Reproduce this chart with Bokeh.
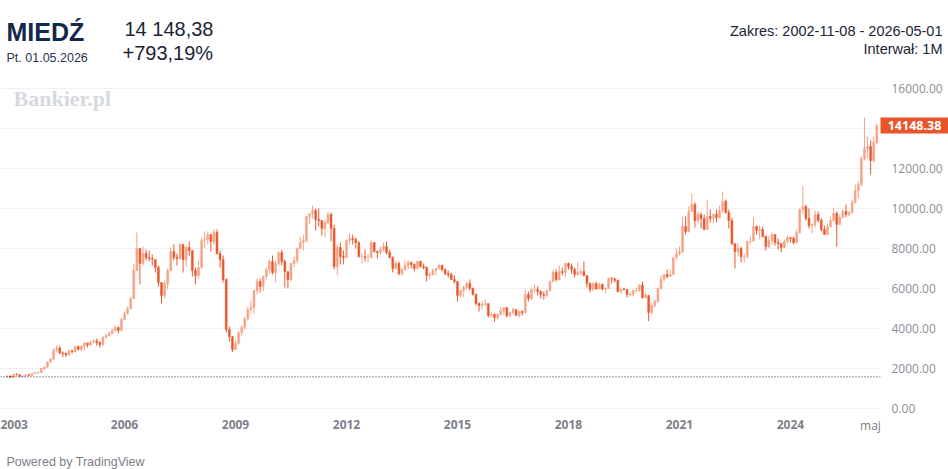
from bokeh.plotting import figure
from bokeh.models import Range1d, FixedTicker, NumeralTickFormatter, Span, ColumnDataSource
from bokeh.core.properties import value
from bokeh.embed import file_html
from bokeh.resources import INLINE

# ---------------- data (LME copper, USD/t, monthly candles 2002-11 .. 2026-05) -------------
first_open = 1584.02
close = [
    1620, 1560,  # 2002 Nov-Dec
    1700, 1690, 1610, 1620, 1675, 1660, 1745, 1790, 1800, 2000, 2060, 2320,  # 2003
    2460, 2930, 3020, 2780, 2750, 2680, 2880, 2840, 3100, 2960, 3130, 3280,  # 2004
    3180, 3330, 3380, 3300, 3200, 3550, 3650, 3750, 3900, 4050, 3900, 4450,  # 2005
    4750, 5000, 5500, 6900, 8000, 7250, 7750, 7550, 7500, 7450, 7050, 6300,  # 2006
    5650, 6250, 6900, 7850, 7550, 7500, 8200, 7450, 8050, 7900, 6900, 6650,  # 2007
    7050, 8400, 8450, 8700, 8350, 8800, 7750, 7450, 6450, 3950, 3600, 2950,  # 2008
    3250, 3800, 4050, 4480, 4950, 5050, 5900, 6350, 6100, 6600, 6950, 7350,  # 2009
    6800, 7250, 7800, 7350, 6850, 6450, 7250, 7400, 8000, 8300, 8400, 9600,  # 2010
    9750, 9900, 9450, 9400, 9000, 9300, 9700, 9000, 7100, 8050, 7600, 7550,  # 2011
    8400, 8500, 8450, 8300, 7600, 7600, 7550, 7550, 8300, 7850, 7800, 7950,  # 2012
    8100, 7800, 7550, 7000, 7250, 6750, 6950, 7150, 7300, 7200, 7000, 7350,  # 2013
    7100, 7050, 6650, 6700, 6900, 7000, 7150, 6950, 6750, 6700, 6450, 6350,  # 2014
    5650, 5900, 6050, 6250, 6000, 5700, 5250, 5150, 5200, 5250, 4650, 4700,  # 2015
    4550, 4700, 4900, 5050, 4650, 4800, 4950, 4650, 4850, 4800, 5700, 5500,  # 2016
    5950, 5950, 5850, 5700, 5650, 5900, 6350, 6800, 6450, 6850, 6800, 7250,  # 2017
    7100, 6950, 6700, 6800, 6850, 6650, 6250, 5950, 6250, 5970, 6200, 5970,  # 2018
    6000, 6500, 6480, 6400, 5850, 5970, 5950, 5700, 5720, 5900, 5900, 6170,  # 2019
    5550, 5650, 4800, 5150, 5350, 6000, 6450, 6700, 6600, 6700, 7550, 7750,  # 2020
    7850, 9100, 8850, 9850, 10200, 9400, 9700, 9500, 8950, 9600, 9500, 9700,  # 2021
    9550, 9900, 10350, 9800, 9400, 8250, 7850, 8000, 7600, 7600, 8350, 8370,  # 2022
    9100, 8900, 8950, 8600, 8100, 8400, 8700, 8300, 8250, 8050, 8350, 8550,  # 2023
    8500, 8300, 8800, 9950, 10100, 9500, 9150, 9200, 9700, 9400, 8950, 8700,  # 2024
    9100, 9400, 9750, 9200, 9550, 9850, 9700, 9800, 10300, 10900, 11200, 12500,  # 2025
    13000, 13100, 12400, 13300, 14148.38,  # 2026 Jan-May
]
high = [
    1660, 1650,
    1730, 1760, 1700, 1660, 1720, 1740, 1790, 1820, 1850, 2030, 2110, 2340,
    2530, 3000, 3170, 3150, 2850, 2800, 2950, 2950, 3150, 3150, 3150, 3300,
    3280, 3400, 3480, 3500, 3350, 3600, 3750, 3850, 4000, 4150, 4100, 4550,
    4850, 5100, 5600, 7250, 8800, 8000, 8100, 7950, 7900, 7700, 7400, 7150,
    6300, 6400, 7000, 8050, 8200, 7750, 8250, 8200, 8150, 8350, 7900, 7050,
    7400, 8550, 8850, 8850, 8650, 8950, 8950, 7900, 7650, 6500, 4100, 3600,
    3450, 3850, 4150, 4600, 5100, 5400, 5950, 6500, 6500, 6650, 7050, 7450,
    7650, 7400, 7850, 7950, 7450, 6800, 7300, 7600, 8050, 8600, 8700, 9650,
    9750, 10150, 10000, 10000, 9400, 9450, 9850, 9800, 9200, 8200, 8300, 7900,
    8450, 8750, 8700, 8550, 8350, 7750, 7950, 7700, 8400, 8300, 7900, 8100,
    8300, 8350, 7950, 7600, 7400, 7350, 7050, 7400, 7400, 7350, 7250, 7400,
    7400, 7250, 7100, 6800, 7000, 7000, 7250, 7200, 7000, 6900, 6800, 6650,
    6350, 5950, 6150, 6350, 6450, 6050, 5750, 5300, 5350, 5450, 5200, 4800,
    4750, 4750, 5100, 5050, 5050, 4800, 5050, 4950, 4900, 4900, 5950, 5850,
    6050, 6200, 6100, 5900, 5850, 5950, 6400, 6950, 6950, 7150, 7050, 7300,
    7300, 7250, 7050, 7300, 7000, 7350, 6650, 6300, 6300, 6350, 6300, 6250,
    6050, 6550, 6550, 6550, 6450, 5970, 6050, 5950, 5850, 5950, 6050, 6200,
    6350, 5800, 5650, 5300, 5450, 6050, 6650, 6700, 6950, 6950, 7550, 8000,
    8100, 9600, 9600, 10100, 10750, 10300, 9850, 9800, 9700, 10450, 9950, 9750,
    9950, 10150, 10850, 10450, 9950, 9550, 8200, 8300, 8100, 7750, 8400, 8600,
    9550, 9150, 9150, 9100, 8650, 8650, 8800, 8700, 8500, 8150, 8450, 8650,
    8550, 8600, 8950, 10000, 11100, 10200, 10000, 9250, 9900, 9850, 9500, 9150,
    9250, 9600, 10050, 9850, 9700, 9950, 10200, 9850, 10450, 11200, 11350, 12600,
    14550, 13600, 13400, 13600, 14250,
]
low = [
    1555, 1540,
    1540, 1650, 1580, 1560, 1600, 1620, 1630, 1720, 1740, 1780, 1920, 2050,
    2300, 2440, 2800, 2720, 2570, 2580, 2650, 2750, 2800, 2900, 2850, 2900,
    3050, 3150, 3250, 3150, 3050, 3150, 3500, 3600, 3700, 3850, 3750, 3900,
    4400, 4700, 4950, 5500, 6900, 6200, 7150, 7400, 7350, 7150, 6800, 6100,
    5250, 5500, 5950, 6850, 7400, 7150, 7450, 6800, 7100, 7650, 6600, 6200,
    6500, 7000, 8000, 8200, 7850, 8200, 7700, 7050, 6300, 3800, 3350, 2820,
    2950, 3200, 3600, 3950, 4400, 4750, 4750, 5700, 5800, 5850, 6450, 6750,
    6700, 6300, 7150, 7150, 6050, 6000, 6350, 7050, 7250, 8000, 7900, 8300,
    9200, 9500, 8900, 9100, 8650, 8550, 9200, 8350, 6950, 6650, 7200, 7200,
    7550, 8200, 8200, 8000, 7550, 7250, 7350, 7300, 7500, 7800, 7500, 7700,
    7850, 7700, 7500, 6800, 6950, 6650, 6650, 6900, 6950, 7000, 6850, 6950,
    7050, 6950, 6350, 6450, 6650, 6650, 6950, 6850, 6650, 6550, 6450, 6250,
    5350, 5550, 5550, 5950, 5900, 5650, 5150, 4850, 4950, 5100, 4550, 4550,
    4330, 4450, 4650, 4700, 4550, 4550, 4700, 4650, 4550, 4650, 4750, 5350,
    5450, 5800, 5650, 5500, 5450, 5550, 5850, 6300, 6350, 6400, 6650, 6550,
    6950, 6750, 6550, 6650, 6650, 6600, 6050, 5800, 5850, 5950, 6000, 5900,
    5750, 6000, 6250, 6300, 5800, 5750, 5900, 5550, 5600, 5600, 5800, 5850,
    5500, 5500, 4370, 4700, 5050, 5300, 5950, 6300, 6500, 6600, 6700, 7400,
    7650, 7750, 8700, 8800, 9900, 9050, 9250, 9000, 8950, 9200, 9300, 9250,
    9300, 9500, 9750, 9750, 9000, 8150, 7000, 7600, 7300, 7300, 7500, 8200,
    8350, 8700, 8450, 8550, 7900, 8000, 8200, 8150, 7950, 7800, 8050, 8250,
    8300, 8200, 8250, 8750, 9750, 9400, 9000, 8750, 9050, 9300, 8850, 8700,
    8700, 9050, 9350, 8100, 9200, 9500, 9550, 9600, 9750, 10250, 10500, 11100,
    12400, 12500, 11700, 12300, 13200,
]
assert len(close) == len(high) == len(low) == 283

first_year, first_month = 2002, 11
tick_years = [2003, 2006, 2009, 2012, 2015, 2018, 2021, 2024]
last_label = "maj"
y_ticks = [0, 2000, 4000, 6000, 8000, 10000, 12000, 14000, 16000]

name = "MIEDŹ"
date_txt = "Pt. 01.05.2026"
price_txt = "14 148,38"
change_txt = "+793,19%"
range_txt = "Zakres: 2002-11-08 - 2026-05-01"
interval_txt = "Interwał: 1M"
last_txt = "14148.38"
watermark = "Bankier.pl"
powered = "Powered by TradingView"

# ---------------- derived ----------------
opens = [first_open] + close[:-1]
idx = list(range(len(close)))
UP, DOWN = "#f4a386", "#e8582c"
up = [c >= o for o, c in zip(opens, close)]
src = ColumnDataSource(dict(
    x=idx, o=opens, c=close, h=high, l=low,
    top=[max(o, c) for o, c in zip(opens, close)],
    bot=[min(o, c) for o, c in zip(opens, close)],
    col=[UP if u else DOWN for u in up],
))

W, H = 948, 469
FL, FR, FT, FB = 0, 880, 80, 410
XS, XE = -2.22, 283.2
YS, YE = -100, 16400

def py_of(v):
    return FT + (YE - v) * (FB - FT) / (YE - YS)

# ---------------- chart figure ----------------
p = figure(width=W, height=H, output_backend="svg", toolbar_location=None,
           x_range=Range1d(XS, XE), y_range=Range1d(YS, YE),
           y_axis_location="right", min_border_left=FL, min_border_right=W - FR,
           min_border_top=FT, min_border_bottom=H - FB)
p.styles = {"position": "absolute", "left": "0px", "top": "0px"}
p.outline_line_color = None
p.background_fill_color = "white"
p.border_fill_color = "white"
p.xgrid.grid_line_color = None
p.ygrid.ticker = FixedTicker(ticks=y_ticks)
p.ygrid.grid_line_color = "#eef0f5"

ya = p.yaxis[0]
ya.ticker = FixedTicker(ticks=y_ticks)
ya.formatter = NumeralTickFormatter(format="0.00")
ya.axis_line_color = None
ya.major_tick_line_color = None
ya.minor_tick_line_color = None
ya.major_tick_out = 0
ya.major_label_standoff = 11
ya.major_label_text_font = "Open Sans"
ya.major_label_text_font_size = "12px"
ya.major_label_text_color = "#8b8e97"

xa = p.xaxis[0]
tick_pos = [(y - first_year) * 12 + (1 - first_month) for y in tick_years]
xa.ticker = FixedTicker(ticks=tick_pos)
xa.major_label_overrides = {t: str(y) for t, y in zip(tick_pos, tick_years)}
xa.axis_line_color = None
xa.major_tick_line_color = None
xa.minor_tick_line_color = None
xa.major_tick_out = 0
xa.major_label_standoff = 9
xa.major_label_text_font = "Open Sans"
xa.major_label_text_font_style = "bold"
xa.major_label_text_font_size = "12px"
xa.major_label_text_color = "#7d8089"

p.add_layout(Span(location=first_open, dimension="width", line_color="#1f2a44",
                  line_width=1, line_dash="1 2"))

p.segment(x0="x", y0="h", x1="x", y1="l", source=src, line_color="col", line_width=1)
p.vbar(x="x", width=0.62, top="top", bottom="bot", source=src,
       fill_color="col", line_color="col", line_width=0.5)

# ---------------- transparent overlay for texts outside the plot frame ----------------
o = figure(width=W, height=H, output_backend="svg", toolbar_location=None,
           x_range=Range1d(0, W), y_range=Range1d(H, 0),
           x_axis_type=None, y_axis_type=None,
           min_border_left=0, min_border_right=0, min_border_top=0, min_border_bottom=0)
o.styles = {"position": "absolute", "left": "0px", "top": "0px", "pointer-events": "none"}
o.outline_line_color = None
o.background_fill_color = None
o.border_fill_color = None

def txt(t, x, y, size, color, font="Liberation Sans", style="normal", align="left"):
    o.text(x=[x], y=[y], text=[t], text_font=value(font), text_font_size=size,
           text_font_style=style, text_color=color, text_align=align,
           text_baseline="middle")

txt(name, 6, 31, "25px", "#14284b", style="bold")
txt(date_txt, 6, 57, "12.5px", "#2a3650")
txt(price_txt, 124, 28, "20px", "#1b2535")
txt(change_txt, 122, 52, "20px", "#1b2535")
txt(range_txt, 942, 30, "14.5px", "#1b2535", align="right")
txt(interval_txt, 942, 48, "14.5px", "#1b2535", align="right")
txt(watermark, 13, 98, "22px", "#d6d9df", font="Liberation Serif", style="bold")
txt(powered, 6, 461, "12.5px", "#7d8089")
txt(last_label, 870, 425, "12px", "#7d8089", font="Open Sans", align="center")

yb = py_of(close[-1])
o.quad(left=[FR], right=[W], top=[yb - 8], bottom=[yb + 8],
       fill_color="#e8552a", line_color=None)
txt(last_txt, 914, yb, "12.5px", "white", font="Open Sans", style="bold", align="center")

open("out.html", "w").write(file_html([p, o], INLINE))
